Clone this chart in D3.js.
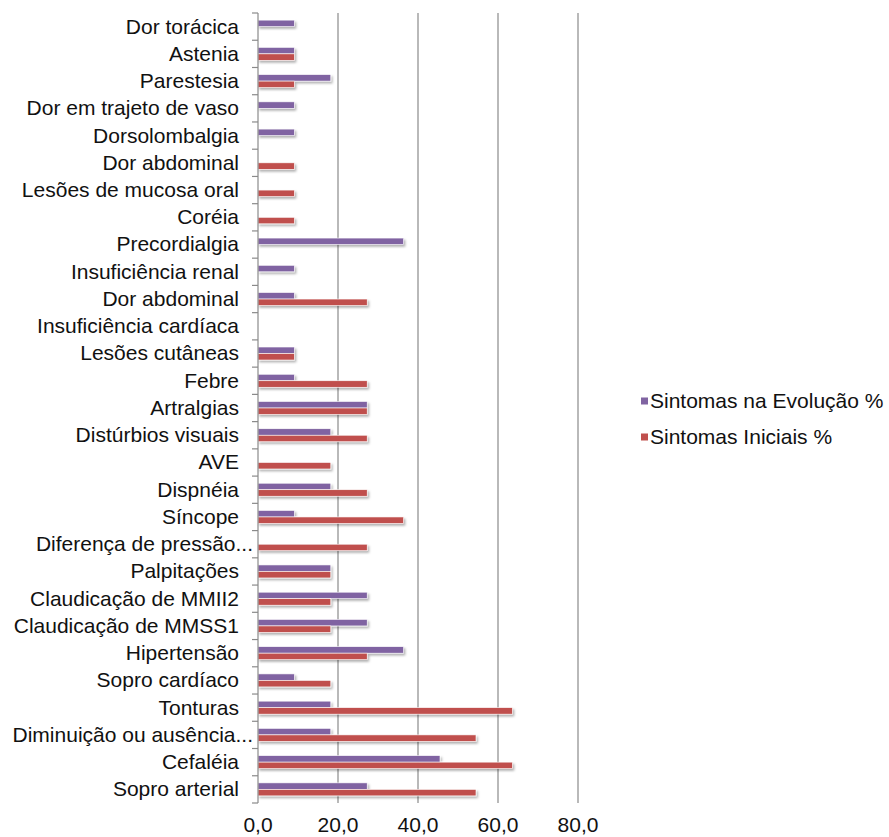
<!DOCTYPE html>
<html>
<head>
<meta charset="utf-8">
<script src="https://cdn.jsdelivr.net/npm/d3@7"></script>
<style>
  body { margin: 0; background: #fff; }
  text { font-family: "Liberation Sans", Arial, sans-serif; fill: #111; }
</style>
</head>
<body>
<script>
// Categories listed bottom to top (as in the original spreadsheet)
const categories = [
  'Sopro arterial', 'Cefaléia', 'Diminuição ou ausência...', 'Tonturas', 'Sopro cardíaco',
  'Hipertensão', 'Claudicação de MMSS1', 'Claudicação de MMII2', 'Palpitações',
  'Diferença de pressão...', 'Síncope', 'Dispnéia', 'AVE', 'Distúrbios visuais', 'Artralgias',
  'Febre', 'Lesões cutâneas', 'Insuficiência cardíaca', 'Dor abdominal', 'Insuficiência renal',
  'Precordialgia', 'Coréia', 'Lesões de mucosa oral', 'Dor abdominal', 'Dorsolombalgia',
  'Dor em trajeto de vaso', 'Parestesia', 'Astenia', 'Dor torácica'
]
const evolucao = [
  27.3, 45.5, 18.2, 18.2, 9.1, 36.4, 27.3, 27.3, 18.2, 0, 9.1, 18.2, 0, 18.2, 27.3,
  9.1, 9.1, 0, 9.1, 9.1, 36.4, 0, 0, 0, 9.1, 9.1, 18.2, 9.1, 9.1
]
const iniciais = [
  54.5, 63.6, 54.5, 63.6, 18.2, 27.3, 18.2, 18.2, 18.2, 27.3, 36.4, 27.3, 18.2, 27.3, 27.3,
  27.3, 9.1, 0, 27.3, 0, 0, 9.1, 9.1, 9.1, 0, 0, 9.1, 9.1, 0
]
const seriesNames = ['Sintomas na Evolução %', 'Sintomas Iniciais %']
const xTicks = [0, 20, 40, 60, 80]

const width = 889, height = 837
const margin = {left: 258, top: 13, right: 311, bottom: 34}
const innerW = 320, innerH = height - margin.top - margin.bottom
const colors = {evo: '#8064A2', ini: '#C0504D'}
const grid = '#8a8a8a'

const svg = d3.select('body').append('svg')
  .attr('width', width)
  .attr('height', height)

// Soft drop shadow used on bars
const defs = svg.append('defs')
const f = defs.append('filter').attr('id', 'shadow')
  .attr('x', '-5%').attr('y', '-40%').attr('width', '120%').attr('height', '200%')
f.append('feDropShadow')
  .attr('dx', 1.5).attr('dy', 2).attr('stdDeviation', 1.2)
  .attr('flood-color', '#000').attr('flood-opacity', 0.3)

const g = svg.append('g').attr('transform', `translate(${margin.left},${margin.top})`)

// Scales
const xScale = d3.scaleLinear().domain([0, 80]).range([0, innerW])
const idx = d3.range(categories.length)
const yScale = d3.scaleBand().domain(idx.slice().reverse()).range([0, innerH])
const bw = yScale.bandwidth()
const barH = 6.5
const ySub = d3.scaleBand().domain(['evo', 'ini']).range([bw / 2 - barH, bw / 2 + barH])

// Vertical gridlines
g.selectAll('.grid')
  .data(xTicks.filter(d => d > 0))
  .join('line')
  .attr('class', 'grid')
  .attr('x1', d => xScale(d)).attr('x2', d => xScale(d))
  .attr('y1', 0).attr('y2', innerH)
  .style('stroke', grid)
  .style('stroke-width', 1.2)

// Bars
const rows = idx.map(i => ({i: i, evo: evolucao[i], ini: iniciais[i]}))
const gBars = g.append('g').attr('filter', 'url(#shadow)')
;['evo', 'ini'].forEach(key => {
  gBars.selectAll(`.bar-${key}`)
    .data(rows.filter(d => d[key] > 0))
    .join('rect')
    .attr('class', `bar-${key}`)
    .attr('x', xScale(0))
    .attr('y', d => yScale(d.i) + ySub(key))
    .attr('width', d => xScale(d[key]) - xScale(0))
    .attr('height', ySub.bandwidth())
    .style('fill', colors[key])
    .style('stroke', '#fff')
    .style('stroke-width', 0.6)
})

// Left axis line and category boundary ticks
g.append('line')
  .attr('x1', 0).attr('x2', 0).attr('y1', 0).attr('y2', innerH)
  .style('stroke', grid).style('stroke-width', 1.2)
g.selectAll('.ctick')
  .data(d3.range(categories.length + 1))
  .join('line')
  .attr('class', 'ctick')
  .attr('x1', -6).attr('x2', 0)
  .attr('y1', d => d * bw).attr('y2', d => d * bw)
  .style('stroke', grid).style('stroke-width', 1.2)

// Category labels (truncated ones run up to the axis, as Excel draws them)
g.selectAll('.clabel')
  .data(rows)
  .join('text')
  .attr('class', 'clabel')
  .attr('x', d => categories[d.i].endsWith('...') ? -5 : -19)
  .attr('y', d => yScale(d.i) + bw / 2)
  .attr('dy', '0.33em')
  .attr('text-anchor', 'end')
  .style('font-size', '21px')
  .text(d => categories[d.i])

// Bottom tick labels
g.selectAll('.xlabel')
  .data(xTicks)
  .join('text')
  .attr('class', 'xlabel')
  .attr('x', d => xScale(d))
  .attr('y', innerH + 29)
  .attr('text-anchor', 'middle')
  .style('font-size', '21px')
  .text(d => d3.format('.1f')(d).replace('.', ','))

// Legend
const legend = svg.append('g').attr('transform', 'translate(641,401)')
const lg = legend.selectAll('.leg')
  .data(seriesNames)
  .join('g')
  .attr('class', 'leg')
  .attr('transform', (d, i) => `translate(0,${i * 36})`)
lg.append('rect')
  .attr('x', 0).attr('y', -3.5).attr('width', 7).attr('height', 7)
  .style('fill', (d, i) => i === 0 ? colors.evo : colors.ini)
lg.append('text')
  .attr('x', 9).attr('dy', '0.35em')
  .style('font-size', '21px')
  .text(d => d)
</script>
</body>
</html>
